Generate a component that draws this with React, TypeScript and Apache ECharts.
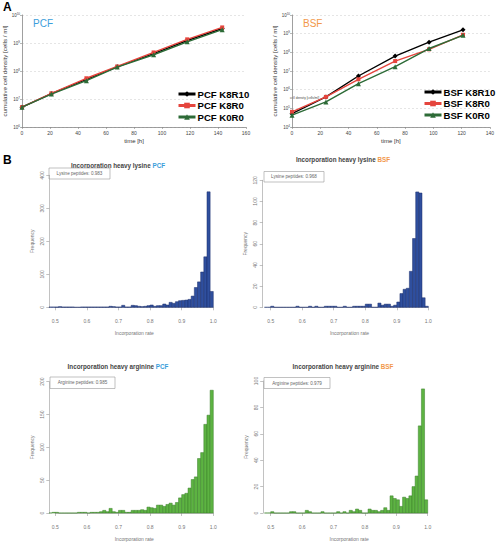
import React, { useEffect, useRef } from 'react';
import * as echarts from 'echarts';

// ---------- Panel A: growth curves ----------
const PCF_TIME = [0, 21, 46, 68, 94, 118, 143];
const PCF_K8R10 = [5.1e6, 1.55e7, 5.0e7, 1.41e8, 4.2e8, 1.23e9, 3.3e9];
const PCF_K8R0 = [5.1e6, 1.6e7, 5.5e7, 1.45e8, 4.6e8, 1.35e9, 3.6e9];
const PCF_K0R0 = [5.1e6, 1.5e7, 4.5e7, 1.38e8, 3.8e8, 1.1e9, 3.0e9];

const BSF_TIME = [0, 24, 47, 73, 97, 121];
const BSF_K8R10 = [5.2e4, 4.1e5, 5.4e6, 6.3e7, 3.5e8, 1.6e9];
const BSF_K8R0 = [6.5e4, 4.1e5, 3.6e6, 3.4e7, 1.45e8, 8.7e8];
const BSF_K0R0 = [4.3e4, 2.2e5, 2.1e6, 1.7e7, 1.6e8, 8.1e8];

// ---------- Panel B: incorporation histograms ----------
const BIN_START = [
  0.48, 0.49, 0.5, 0.51, 0.52, 0.53, 0.54, 0.55, 0.56, 0.57,
  0.58, 0.59, 0.6, 0.61, 0.62, 0.63, 0.64, 0.65, 0.66, 0.67,
  0.68, 0.69, 0.7, 0.71, 0.72, 0.73, 0.74, 0.75, 0.76, 0.77,
  0.78, 0.79, 0.8, 0.81, 0.82, 0.83, 0.84, 0.85, 0.86, 0.87,
  0.88, 0.89, 0.9, 0.91, 0.92, 0.93, 0.94, 0.95, 0.96, 0.97,
  0.98, 0.99,
];
const BIN_WIDTH = 0.01;

const LYS_PCF = [
  1, 1, 1, 2, 1, 1, 1, 1, 0, 0,
  1, 1, 1, 1, 1, 1, 1, 1, 1, 3,
  2, 1, 1, 6, 1, 1, 6, 5, 3, 2,
  3, 5, 7, 3, 5, 5, 10, 7, 15, 12,
  17, 20, 21, 22, 24, 34, 60, 77, 107, 153,
  350, 48,
];
const LYS_BSF = [
  0, 0, 1, 0, 0, 0, 0, 0, 0, 0,
  1, 0, 0, 0, 1, 0, 1, 0, 0, 1,
  1, 1, 1, 0, 0, 1, 0, 0, 1, 1,
  1, 1, 3, 3, 0, 0, 4, 2, 3, 3,
  1, 2, 5, 13, 17, 18, 34, 65, 109, 108,
  9, 1,
];
const ARG_PCF = [
  0, 1, 1, 0, 0, 0, 0, 0, 0, 1,
  1, 1, 0, 1, 1, 1, 2, 4, 2, 7,
  2, 1, 4, 4, 1, 1, 4, 4, 4, 5,
  4, 9, 8, 7, 12, 12, 10, 13, 15, 12,
  16, 23, 28, 30, 38, 51, 55, 83, 92, 135,
  149, 187,
];
const ARG_BSF = [
  0, 0, 1, 0, 0, 0, 0, 0, 1, 1,
  0, 0, 0, 2, 1, 0, 0, 0, 1, 0,
  0, 0, 0, 1, 0, 1, 0, 2, 1, 3,
  2, 0, 0, 3, 2, 2, 1, 2, 4, 2,
  13, 11, 10, 5, 12, 11, 13, 20, 28, 66,
  94, 10,
];

const FONT = '"Liberation Sans", Arial, Helvetica, sans-serif';
const BLUE_TXT = '#3a9edb';
const ORANGE_TXT = '#f2984a';
const C_BLACK = '#000000';
const C_RED = '#e5453d';
const C_GREEN = '#2d6b37';

function logLabel(v: number) {
  const e = Math.round(Math.log10(v));
  return `{b|10}{s|${e}}`;
}

export default function App() {
  const ref = useRef<HTMLDivElement>(null);

  useEffect(() => {
    document.body.style.margin = '0';
    if (!ref.current) return;
    const chart = echarts.init(ref.current, null, { renderer: 'svg' });

    const grids: any[] = [];
    const xAxes: any[] = [];
    const yAxes: any[] = [];
    const series: any[] = [];
    const graphics: any[] = [];

    // ---------- line charts ----------
    const lineAxisLabel = {
      fontSize: 5,
      color: '#444',
      fontFamily: FONT,
    };
    const addLineChart = (
      gi: number,
      left: number,
      width: number,
      xmax: number,
      ymin: number,
      names: string[],
      time: number[],
      vals: number[][],
      nameGap: number,
    ) => {
      grids.push({ left, top: 15, width, height: 112 });
      xAxes.push({
        type: 'value',
        gridIndex: gi,
        min: 0,
        max: xmax,
        interval: 20,
        axisLine: { lineStyle: { color: '#888', width: 0.8 } },
        axisTick: { length: 2, lineStyle: { color: '#888', width: 0.6 } },
        axisLabel: { ...lineAxisLabel, margin: 3 },
        splitLine: { show: false },
        name: 'time [h]',
        nameLocation: 'middle',
        nameGap: 11,
        nameTextStyle: { fontSize: 6, color: '#333', fontFamily: FONT },
      });
      yAxes.push({
        type: 'log',
        logBase: 10,
        gridIndex: gi,
        min: ymin,
        max: 1e10,
        axisLine: { show: true, lineStyle: { color: '#888', width: 0.8 } },
        axisTick: { show: true, length: 2, lineStyle: { color: '#888', width: 0.6 } },
        axisLabel: {
          formatter: logLabel,
          margin: 2,
          color: '#444',
          rich: {
            b: { fontSize: 4.5, fontFamily: FONT, color: '#444' },
            s: { fontSize: 3, fontFamily: FONT, color: '#444', padding: [0, 0, 3, 0] },
          },
        },
        splitLine: { show: true, lineStyle: { color: '#d4d4d4', width: 0.6, type: [2, 2] } },
        minorTick: { show: false },
        name: 'cumulative cell density [cells / ml]',
        nameLocation: 'middle',
        nameGap,
        nameTextStyle: { fontSize: 6.2, color: '#333', fontFamily: FONT },
      });
      const colors = [C_BLACK, C_RED, C_GREEN];
      const symbols = ['diamond', 'rect', 'triangle'];
      const sizes = [5, 4, 5];
      names.forEach((n, k) => {
        series.push({
          type: 'line',
          name: n,
          xAxisIndex: gi,
          yAxisIndex: gi,
          data: time.map((t, i) => [t, vals[k][i]]),
          symbol: symbols[k],
          symbolSize: sizes[k],
          showSymbol: true,
          lineStyle: { color: colors[k], width: 1.4 },
          itemStyle: { color: colors[k] },
          z: 3 + k,
        });
      });
    };

    addLineChart(0, 22, 224, 160, 1e6,
      ['PCF K8R10', 'PCF K8R0', 'PCF K0R0'], PCF_TIME,
      [PCF_K8R10, PCF_K8R0, PCF_K0R0], 9);
    addLineChart(1, 292, 199, 140, 1e4,
      ['BSF K8R10', 'BSF K8R0', 'BSF K0R0'], BSF_TIME,
      [BSF_K8R10, BSF_K8R0, BSF_K0R0], 11);

    // ---------- histograms ----------
    const addHist = (
      gi: number,
      left: number,
      width: number,
      top: number,
      height: number,
      ymax: number,
      yint: number,
      counts: number[],
      fill: string,
      stroke: string,
      yOffset: number,
    ) => {
      grids.push({ left, top, width, height });
      xAxes.push({
        type: 'value',
        gridIndex: gi,
        min: 0.5,
        max: 1.0,
        interval: 0.1,
        offset: 6,
        axisLine: { lineStyle: { color: '#999', width: 0.6 } },
        axisTick: { length: 3, lineStyle: { color: '#999', width: 0.6 } },
        axisLabel: {
          fontSize: 5,
          color: '#777',
          fontFamily: FONT,
          margin: 5,
          formatter: (v: number) => v.toFixed(1),
        },
        splitLine: { show: false },
        name: 'Incorporation rate',
        nameLocation: 'middle',
        nameGap: 17,
        nameTextStyle: { fontSize: 5, color: '#777', fontFamily: FONT },
      });
      yAxes.push({
        type: 'value',
        gridIndex: gi,
        min: 0,
        max: ymax,
        interval: yint,
        offset: yOffset,
        axisLine: { show: true, lineStyle: { color: '#999', width: 0.6 } },
        axisTick: { show: true, length: 3, lineStyle: { color: '#999', width: 0.6 } },
        axisLabel: {
          fontSize: 5,
          color: '#777',
          fontFamily: FONT,
          rotate: 90,
          margin: 5,
        },
        splitLine: { show: false },
        name: 'Frequency',
        nameLocation: 'middle',
        nameGap: 15,
        nameTextStyle: { fontSize: 5, color: '#777', fontFamily: FONT },
      });
      series.push({
        type: 'custom',
        xAxisIndex: gi,
        yAxisIndex: gi,
        clip: false,
        encode: { x: [0, 1], y: 2 },
        data: BIN_START.map((s, i) => [s, s + BIN_WIDTH, counts[i]]),
        renderItem: (params: any, api: any) => {
          const a = api.coord([api.value(0), api.value(2)]);
          const b = api.coord([api.value(1), 0]);
          return {
            type: 'rect',
            shape: { x: a[0], y: a[1], width: b[0] - a[0], height: b[1] - a[1] },
            style: { fill, stroke, lineWidth: 0.5 },
          };
        },
      });
    };

    const BLUE_FILL = '#2f4f9e';
    const BLUE_STROKE = '#1d2f6b';
    const GREEN_FILL = '#5db342';
    const GREEN_STROKE = '#3b7f2b';

    addHist(2, 55.3, 158, 175.3, 132, 400, 100, LYS_PCF, BLUE_FILL, BLUE_STROKE, 6);
    addHist(3, 270.7, 157.6, 180.3, 127, 120, 20, LYS_BSF, BLUE_FILL, BLUE_STROKE, 8);
    addHist(4, 55.3, 158, 381.7, 132.6, 200, 50, ARG_PCF, GREEN_FILL, GREEN_STROKE, 6);
    addHist(5, 270.7, 157, 381, 133.3, 100, 20, ARG_BSF, GREEN_FILL, GREEN_STROKE, 7.5);

    // ---------- graphic annotations ----------
    const txt = (x: number, y: number, text: string, style: any) => ({
      type: 'text',
      x,
      y,
      silent: true,
      style: { text, fontFamily: FONT, ...style },
    });

    graphics.push(txt(3, 1, 'A', { fontSize: 12, fontWeight: 'bold', fill: '#000' }));
    graphics.push(txt(3, 154, 'B', { fontSize: 12, fontWeight: 'bold', fill: '#000' }));
    graphics.push(txt(33, 18, 'PCF', { fontSize: 10, fill: BLUE_TXT }));
    graphics.push(txt(303, 18, 'BSF', { fontSize: 10, fill: ORANGE_TXT }));
    graphics.push(txt(290, 96.5, 'cell density [cells/ml]', { fontSize: 3.2, fill: '#444' }));

    const histTitle = (cx: number, cy: number, base: string, tag: string, tagColor: string) => ({
      type: 'text',
      x: cx,
      y: cy,
      silent: true,
      style: {
        text: `{a|${base} }{b|${tag}}`,
        align: 'center',
        verticalAlign: 'middle',
        rich: {
          a: { fontSize: 6.3, fontWeight: 'bold', fill: '#444', color: '#444', fontFamily: FONT },
          b: { fontSize: 6.3, fontWeight: 'bold', fill: tagColor, color: tagColor, fontFamily: FONT },
        },
      },
    });
    graphics.push(histTitle(118, 165, 'Incorporation heavy lysine', 'PCF', BLUE_TXT));
    graphics.push(histTitle(343, 159.5, 'Incorporation heavy lysine', 'BSF', ORANGE_TXT));
    graphics.push(histTitle(118, 366, 'Incorporation heavy arginine', 'PCF', BLUE_TXT));
    graphics.push(histTitle(343, 366, 'Incorporation heavy arginine', 'BSF', ORANGE_TXT));

    const box = (x: number, y: number, w: number, h: number, text: string) => [
      {
        type: 'rect',
        silent: true,
        shape: { x, y, width: w, height: h },
        style: { fill: '#fff', stroke: '#999', lineWidth: 0.6 },
      },
      {
        type: 'text',
        x: x + w / 2,
        y: y + h / 2,
        silent: true,
        style: {
          text,
          fontFamily: FONT,
          fontSize: 4.6,
          fill: '#666',
          align: 'center',
          verticalAlign: 'middle',
        },
      },
    ];
    graphics.push(...box(49, 168, 61, 11, 'Lysine peptides: 0.983'));
    graphics.push(...box(264, 171.5, 60, 10.5, 'Lysine peptides: 0.968'));
    graphics.push(...box(50, 377, 65, 11.5, 'Arginine peptides: 0.985'));
    graphics.push(...box(264, 377.5, 66, 11, 'Arginine peptides: 0.979'));

    const legendBase = {
      orient: 'vertical',
      itemWidth: 17,
      itemHeight: 7,
      itemGap: 1.5,
      padding: 0,
      lineStyle: { width: 3 },
      textStyle: {
        fontSize: 9.6,
        fontWeight: 'bold',
        lineHeight: 10,
        color: '#000',
        fontFamily: FONT,
        padding: [0, 0, 0, -3],
      },
      selectedMode: false,
    };

    chart.setOption({
      animation: false,
      backgroundColor: '#fff',
      grid: grids,
      xAxis: xAxes,
      yAxis: yAxes,
      series,
      legend: [
        { ...legendBase, data: ['PCF K8R10', 'PCF K8R0', 'PCF K0R0'], left: 177, top: 89 },
        { ...legendBase, data: ['BSF K8R10', 'BSF K8R0', 'BSF K0R0'], left: 423, top: 87 },
      ],
      graphic: graphics,
    });

    return () => chart.dispose();
  }, []);

  return <div ref={ref} style={{ width: 497, height: 542 }} />;
}
